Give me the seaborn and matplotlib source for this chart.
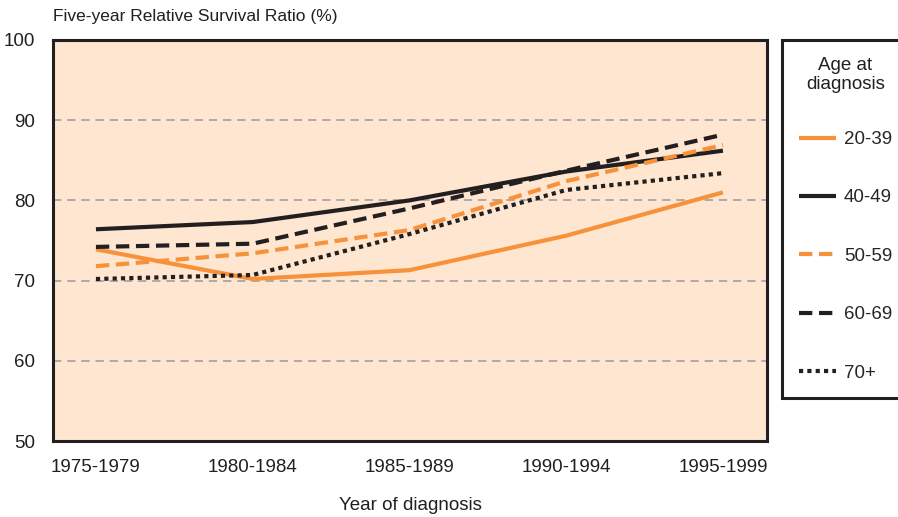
import pandas as pd
import matplotlib
matplotlib.use('Agg')
import matplotlib.pyplot as plt
import seaborn as sns

# Datos
periodos = ['1975-1979', '1980-1984', '1985-1989', '1990-1994', '1995-1999']
edades = ['20-39', '40-49', '50-59', '60-69', '70+']
v_20_39 = [73.9, 70.2, 71.3, 75.6, 81.0]
v_40_49 = [76.4, 77.3, 80.0, 83.6, 86.2]
v_50_59 = [71.8, 73.4, 76.3, 82.4, 86.9]
v_60_69 = [74.2, 74.6, 79.0, 83.7, 88.2]
v_70 = [70.2, 70.7, 75.8, 81.3, 83.4]

series = [v_20_39, v_40_49, v_50_59, v_60_69, v_70]
filas = []
for edad, vals in zip(edades, series):
    for i, v in enumerate(vals):
        filas.append({'periodo': i, 'edad': edad, 'ratio': v})
df = pd.DataFrame(filas)

naranja = '#F7923A'
negro = '#231F20'
colores = {'20-39': naranja, '40-49': negro, '50-59': naranja, '60-69': negro, '70+': negro}
trazos = {'20-39': '', '40-49': '', '50-59': (3.2, 1.6), '60-69': (3.2, 1.6), '70+': (1, 1)}

sns.set_style('white')
plt.rcParams['font.family'] = ['Liberation Sans', 'DejaVu Sans']

fig = plt.figure(figsize=(8.98, 5.17), dpi=100)
ax = fig.add_axes([53 / 898, 76 / 517, 714 / 898, 401 / 517])
ax.set_facecolor('#FEE6D0')

sns.lineplot(data=df, x='periodo', y='ratio', hue='edad', style='edad',
             palette=colores, dashes=trazos, linewidth=3.0, ax=ax)
for ln in ax.get_lines():
    ln.set_dash_capstyle('butt')
    ln.set_solid_capstyle('butt')

ax.set_xlim(-0.274, 4.281)
ax.set_ylim(50, 100)
ax.set_xticks(range(5))
ax.set_xticklabels(periodos)
ax.set_yticks([50, 60, 70, 80, 90, 100])
ax.tick_params(axis='x', direction='in', length=4, width=1, color=negro,
               labelsize=13.5, pad=13, labelcolor='#231F20')
ax.tick_params(axis='y', direction='in', length=4, width=1, color=negro,
               labelsize=13.5, pad=13, labelcolor='#231F20')
for y in [60, 70, 80, 90]:
    ax.axhline(y, color='#A0A0A0', lw=1.2, ls=(0, (5, 3.5)), zorder=0)
for s in ax.spines.values():
    s.set_color(negro)
    s.set_linewidth(2.2)
ax.set_xlabel('')
ax.set_ylabel('')

fig.text(53 / 898, 1 - 17 / 517, 'Five-year Relative Survival Ratio (%)',
         fontsize=12.5, va='center', ha='left', color='#231F20')
fig.text(410 / 898, 1 - 505 / 517, 'Year of diagnosis',
         fontsize=13.5, va='center', ha='center', color='#231F20')

handles, labels = ax.get_legend_handles_labels()
ax.get_legend().remove()
leg = fig.legend(handles, labels, loc='upper left',
                 bbox_to_anchor=(782 / 898, 1 - 40 / 517),
                 title='Age at\ndiagnosis', title_fontsize=13.5, fontsize=13.5,
                 frameon=True, fancybox=False, framealpha=1, handlelength=2.0,
                 handletextpad=0.4, labelspacing=2.2, borderpad=0.9,
                 borderaxespad=0)
leg.get_title().set_multialignment('center')
leg.get_title().set_color('#231F20')
leg._legend_box.sep = 27
fr = leg.get_frame()
fr.set_edgecolor(negro)
fr.set_linewidth(2.2)
fr.set_facecolor('white')

plt.savefig('out.png', dpi=100)
